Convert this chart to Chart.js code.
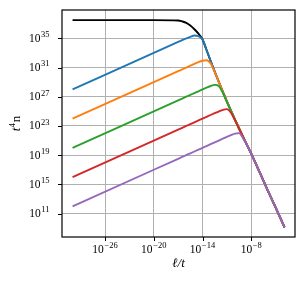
<!DOCTYPE html>
<html><head><meta charset="utf-8">
<script src="https://cdn.jsdelivr.net/npm/chart.js@4"></script>
<style>html,body{margin:0;padding:0;background:#fff}canvas{display:block}</style>
</head><body>
<canvas id="c" width="305" height="288"></canvas>
<script>
// log10 of ell/t (shared x positions)
const logEll = [-30, -20, -17, -16.5, -16, -15.5, -15, -14.5, -14, -13.5, -13, -12.5, -12, -11.5, -11, -10.5, -10, -9.5, -9, -8.5, -8, -7, -6, -5, -3.9];
// log10 of t^4 n for each curve
const logBlack  = [37.5, 37.5, 37.45, 37.32, 37.12, 36.75, 36.25, 35.65, 34.85, 33.4, 31.9, 30.45, 29.05, 27.7, 26.35, 25.1, 23.85, 22.65, 21.5, 20.35, 19.2, 16.75, 14.25, 11.85, 9.1];
const logBlue   = [28, 33, 34.5, 34.75, 34.98, 35.2, 35.38, 35.3, 34.85, 33.4, 31.9, 30.45, 29.05, 27.7, 26.35, 25.1, 23.85, 22.65, 21.5, 20.35, 19.2, 16.75, 14.25, 11.85, 9.1];
const logOrange = [24, 29, 30.5, 30.75, 31.0, 31.25, 31.5, 31.74, 31.93, 32.0, 31.55, 30.4, 29.05, 27.7, 26.35, 25.1, 23.85, 22.65, 21.5, 20.35, 19.2, 16.75, 14.25, 11.85, 9.1];
const logGreen  = [20, 25, 26.5, 26.75, 27.0, 27.25, 27.5, 27.75, 28.0, 28.24, 28.47, 28.62, 28.45, 27.55, 26.3, 25.1, 23.85, 22.65, 21.5, 20.35, 19.2, 16.75, 14.25, 11.85, 9.1];
const logRed    = [16, 21, 22.5, 22.75, 23.0, 23.25, 23.5, 23.75, 24.0, 24.25, 24.5, 24.74, 24.97, 25.2, 25.3, 24.8, 23.8, 22.65, 21.5, 20.35, 19.2, 16.75, 14.25, 11.85, 9.1];
const logPurple = [12, 17, 18.5, 18.75, 19.0, 19.25, 19.5, 19.75, 20.0, 20.25, 20.5, 20.75, 21.0, 21.25, 21.5, 21.73, 21.95, 22.02, 21.3, 20.33, 19.2, 16.75, 14.25, 11.85, 9.1];
// tick exponents
const xTickExps = [-26, -20, -14, -8];
const yTickExps = [11, 15, 19, 23, 27, 31, 35];
const xLimExp = [-31.3, -2.61];
const yLimExp = [7.79, 38.88];

const SERIF = '"Liberation Serif","DejaVu Serif",serif';
function pts(arr) { return logEll.map((lx, i) => ({x: Math.pow(10, lx), y: Math.pow(10, arr[i])})); }

function drawPow(ctx, exp, x, y, align) {
  const base = '10', sup = (exp < 0 ? '\u2212' : '') + Math.abs(exp);
  ctx.font = '11.5px ' + SERIF; const wb = ctx.measureText(base).width;
  ctx.font = '8.5px ' + SERIF; const ws = ctx.measureText(sup).width;
  const gap = 0.6, total = wb + gap + ws;
  const x0 = align === 'center' ? x - total / 2 : x - total;
  ctx.textAlign = 'left'; ctx.textBaseline = 'alphabetic'; ctx.fillStyle = '#000';
  ctx.font = '11.5px ' + SERIF; ctx.fillText(base, x0, y);
  ctx.font = '8.5px ' + SERIF; ctx.fillText(sup, x0 + wb + gap, y - 4.6);
}

const deco = {
  id: 'deco',
  afterDraw(chart) {
    const ctx = chart.ctx, ca = chart.chartArea, xs = chart.scales.x, ys = chart.scales.y;
    ctx.save();
    ctx.strokeStyle = '#000'; ctx.lineWidth = 1.2;
    ctx.strokeRect(ca.left, ca.top, ca.right - ca.left, ca.bottom - ca.top);
    ctx.lineWidth = 1;
    ctx.beginPath();
    xTickExps.forEach(e => {
      const px = Math.round(xs.getPixelForValue(Math.pow(10, e))) + 0.5;
      ctx.moveTo(px, ca.bottom); ctx.lineTo(px, ca.bottom + 4);
    });
    yTickExps.forEach(e => {
      const py = Math.round(ys.getPixelForValue(Math.pow(10, e))) + 0.5;
      ctx.moveTo(ca.left, py); ctx.lineTo(ca.left - 4, py);
    });
    ctx.stroke();
    xTickExps.forEach(e => drawPow(ctx, e, xs.getPixelForValue(Math.pow(10, e)), ca.bottom + 16, 'center'));
    yTickExps.forEach(e => drawPow(ctx, e, 49.5, ys.getPixelForValue(Math.pow(10, e)) + 3.4, 'right'));
    // x title
    ctx.fillStyle = '#000'; ctx.textAlign = 'center'; ctx.textBaseline = 'alphabetic';
    ctx.font = 'italic 13px ' + SERIF;
    ctx.fillText('\u2113/t', (ca.left + ca.right) / 2, 266.5);
    // y title
    ctx.translate(20, (ca.top + ca.bottom) / 2);
    ctx.rotate(-Math.PI / 2);
    ctx.textAlign = 'left';
    ctx.font = 'italic 13px ' + SERIF; const w1 = ctx.measureText('t').width;
    ctx.font = '9px ' + SERIF; const w2 = ctx.measureText('4').width;
    ctx.font = '13px ' + SERIF; const w3 = ctx.measureText('n').width;
    const tot = w1 + w2 + 1 + w3; let x0 = -tot / 2;
    ctx.font = 'italic 13px ' + SERIF; ctx.fillText('t', x0, 0);
    ctx.font = '9px ' + SERIF; ctx.fillText('4', x0 + w1 + 0.3, -5.5);
    ctx.font = '13px ' + SERIF; ctx.fillText('n', x0 + w1 + w2 + 1, 0);
    ctx.restore();
  }
};

const mk = (label, arr, color, order) => ({
  label, data: pts(arr), borderColor: color, backgroundColor: color,
  borderWidth: 1.9, pointRadius: 0, fill: false, order,
  cubicInterpolationMode: 'monotone'
});

new Chart(document.getElementById('c'), {
  type: 'line',
  data: {
    datasets: [
      mk('black', logBlack, '#000000', 5),
      mk('blue', logBlue, '#1f77b4', 4),
      mk('orange', logOrange, '#ff7f0e', 3),
      mk('green', logGreen, '#2ca02c', 2),
      mk('red', logRed, '#d62728', 1),
      mk('purple', logPurple, '#9467bd', 0)
    ]
  },
  options: {
    responsive: false, animation: false, devicePixelRatio: 1,
    layout: {padding: {left: 62, right: 10, top: 10, bottom: 51}},
    plugins: {legend: {display: false}, tooltip: {enabled: false}},
    scales: {
      x: {
        type: 'logarithmic', min: Math.pow(10, xLimExp[0]), max: Math.pow(10, xLimExp[1]),
        afterBuildTicks: s => { s.ticks = xTickExps.map(e => ({value: Math.pow(10, e)})); },
        ticks: {display: false}, border: {display: false},
        grid: {color: '#b0b0b0', lineWidth: 1, drawTicks: false}
      },
      y: {
        type: 'logarithmic', min: Math.pow(10, yLimExp[0]), max: Math.pow(10, yLimExp[1]),
        afterBuildTicks: s => { s.ticks = yTickExps.map(e => ({value: Math.pow(10, e)})); },
        ticks: {display: false}, border: {display: false},
        grid: {color: '#b0b0b0', lineWidth: 1, drawTicks: false}
      }
    }
  },
  plugins: [deco]
});
</script>
</body></html>
